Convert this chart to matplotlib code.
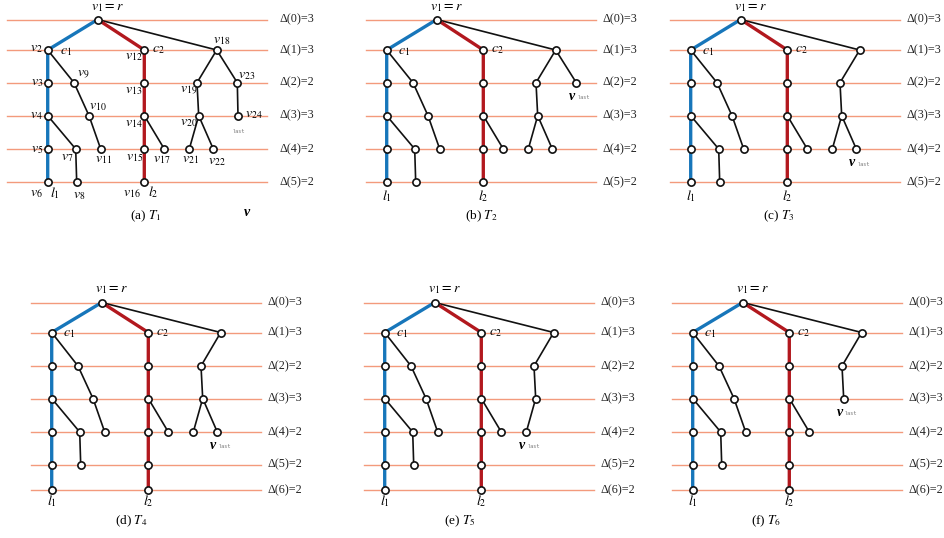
import matplotlib.pyplot as plt

plt.rcParams['mathtext.fontset'] = 'stix'
plt.rcParams['font.family'] = ['Liberation Serif', 'DejaVu Serif']

# layout of the full tree (as drawn in T1): horizontal position and depth of each node
node_x = {'v1': 97.7, 'v2': 47.7, 'v3': 47.7, 'v4': 47.7, 'v5': 47.7, 'v6': 47.7, 'v25': 47.7,
          'v7': 75.7, 'v8': 76.7, 'v9': 74.0, 'v10': 89.0, 'v11': 100.7,
          'v12': 144.3, 'v13': 144.3, 'v14': 144.3, 'v15': 144.3, 'v16': 144.3, 'v26': 144.3,
          'v17': 164.3, 'v18': 216.7, 'v19': 197.0, 'v20': 198.7, 'v21': 189.3,
          'v22': 213.3, 'v23': 237.3, 'v24': 238.0}
node_depth = {'v1': 0, 'v2': 1, 'v12': 1, 'v18': 1,
              'v3': 2, 'v9': 2, 'v13': 2, 'v19': 2, 'v23': 2,
              'v4': 3, 'v10': 3, 'v14': 3, 'v20': 3, 'v24': 3,
              'v5': 4, 'v7': 4, 'v11': 4, 'v15': 4, 'v17': 4, 'v21': 4, 'v22': 4,
              'v6': 5, 'v8': 5, 'v16': 5, 'v25': 6, 'v26': 6}

blue_path = ['v1', 'v2', 'v3', 'v4', 'v5', 'v6', 'v25']
red_path = ['v1', 'v12', 'v13', 'v14', 'v15', 'v16', 'v26']
black_edges = [('v1', 'v18'), ('v2', 'v9'), ('v9', 'v10'), ('v10', 'v11'),
               ('v4', 'v7'), ('v7', 'v8'), ('v14', 'v17'),
               ('v18', 'v19'), ('v19', 'v20'), ('v20', 'v21'), ('v20', 'v22'),
               ('v18', 'v23'), ('v23', 'v24')]

t1_nodes = [n for n in node_x if n not in ('v25', 'v26')]
t2_nodes = [n for n in t1_nodes if n != 'v24']
t3_nodes = [n for n in t2_nodes if n != 'v23']
t4_nodes = t3_nodes + ['v25', 'v26']
t5_nodes = [n for n in t4_nodes if n != 'v22']
t6_nodes = [n for n in t5_nodes if n != 'v21']
tree_nodes = [t1_nodes, t2_nodes, t3_nodes, t4_nodes, t5_nodes, t6_nodes]
last_node = [None, 'v23', 'v22', 'v22', 'v21', 'v20']

delta_short = [3, 3, 2, 3, 2, 2]
delta_long = [3, 3, 2, 3, 2, 2, 2]
deltas = [delta_short, delta_short, delta_short, delta_long, delta_long, delta_long]

captions = ['(a) $T_1$', '(b) $T_2$', '(c) $T_3$', '(d) $T_4$', '(e) $T_5$', '(f) $T_6$']

# panel placement (pixels)
shift_x = [0, 339, 643, 4, 337, 645]
row_y = [[19.5, 50, 82.7, 115.7, 149, 182],
         [302.5, 332.5, 366, 398.5, 432, 464.5, 490]]
panel_row = [0, 0, 0, 1, 1, 1]
line_x0 = [7, 27, 27, 27, 27, 27]
line_x1 = [267, 257, 257, 257, 257, 257]
label_gap = [12, 6.5, 6.5, 6.5, 6.5, 6.5]
cap_x = [146, 481, 779, 131, 460, 766]
cap_y = [216, 216, 216, 521, 521, 521]

# offsets of node names in T1: (dx, dy, ha)
t1_labels = {'v2': (-4.5, -1, 'right'), 'v3': (-4.5, 0, 'right'), 'v4': (-4.5, 0, 'right'),
             'v5': (-4.5, 0, 'right'), 'v6': (-11.5, 11, 'center'), 'v7': (-8, 9, 'center'),
             'v8': (2.5, 13, 'center'), 'v9': (3, -8, 'left'), 'v10': (0, -9, 'left'),
             'v11': (2.5, 10, 'center'), 'v12': (-2, 7, 'right'), 'v13': (-2, 7.5, 'right'),
             'v14': (-2, 7.5, 'right'), 'v15': (-1, 9, 'right'), 'v16': (-4, 11, 'right'),
             'v17': (-3, 10, 'center'), 'v18': (5, -9, 'center'), 'v19': (0, 8, 'right'),
             'v20': (-1.5, 6.5, 'right'), 'v21': (0.7, 11, 'center'), 'v22': (3.7, 12, 'center'),
             'v23': (1, -7, 'left'), 'v24': (7, -1.5, 'left')}

BLUE = '#1776ba'
RED = '#b2181e'
ORANGE = '#f39a7c'

fig = plt.figure(figsize=(9.45, 5.38), dpi=100)
ax = fig.add_axes([0, 0, 1, 1])
ax.set_xlim(0, 945)
ax.set_ylim(538, 0)
ax.axis('off')

for p in range(6):
    nodes = tree_nodes[p]
    ys = row_y[panel_row[p]]
    sx = shift_x[p]
    pos = {n: (node_x[n] + sx, ys[node_depth[n]]) for n in nodes}

    # depth lines and their labels
    for d, val in enumerate(deltas[p]):
        ax.plot([line_x0[p] + sx, line_x1[p] + sx], [ys[d], ys[d]], color=ORANGE, lw=1.0, zorder=1)
        ax.text(line_x1[p] + sx + label_gap[p], ys[d], '\u0394(%d)=%d' % (d, val),
                fontsize=8.7, ha='left', va='center', color='#222222')

    # edges
    for a, b in black_edges:
        if a in pos and b in pos:
            ax.plot([pos[a][0], pos[b][0]], [pos[a][1], pos[b][1]], color='#111111', lw=1.2, zorder=2)
    for path, col in ((blue_path, BLUE), (red_path, RED)):
        pts = [pos[n] for n in path if n in pos]
        ax.plot([q[0] for q in pts], [q[1] for q in pts], color=col, lw=2.4, zorder=3,
                solid_capstyle='butt')

    # nodes
    ax.plot([pos[n][0] for n in nodes], [pos[n][1] for n in nodes], 'o', ms=5.2, mfc='white',
            mec='#111111', mew=1.2, ls='none', zorder=4)

    # labels shared by all panels
    rx, ry = pos['v1']
    ax.text(rx + 10, ry - 12.5, '$v_1 = r$', fontsize=10, ha='center', va='center')
    c1x, c1y = pos['v2']
    c2x, c2y = pos['v12']
    ax.text(c1x + (12 if p == 0 else 11), c1y + 1.5, '$c_1$', fontsize=10, ha='left', va='center')
    ax.text(c2x + 8, c2y, '$c_2$', fontsize=10, ha='left', va='center')
    l1 = [n for n in blue_path if n in pos][-1]
    l2 = [n for n in red_path if n in pos][-1]
    if p == 0:
        ax.text(pos[l1][0] + 7, pos[l1][1] + 11, '$l_1$', fontsize=10, ha='center', va='center')
        ax.text(pos[l2][0] + 9, pos[l2][1] + 10, '$l_2$', fontsize=10, ha='center', va='center')
    else:
        off = 14.5 if panel_row[p] == 0 else 11.5
        ax.text(pos[l1][0], pos[l1][1] + off, '$l_1$', fontsize=10, ha='center', va='center')
        ax.text(pos[l2][0], pos[l2][1] + off, '$l_2$', fontsize=10, ha='center', va='center')

    if p == 0:
        for n, (ox, oy, ha) in t1_labels.items():
            ax.text(pos[n][0] + ox, pos[n][1] + oy, '$v_{%s}$' % n[1:], fontsize=10,
                    ha=ha, va='center')
        lx, ly = pos['v24']
        ax.text(lx + 1, ly + 15.5, 'last', fontsize=3.8, family='DejaVu Sans Mono',
                color='#777777', ha='center', va='center')
        ax.text(247, 213, 'v', fontsize=10, fontweight='bold', style='italic',
                ha='center', va='center')
    else:
        lx, ly = pos[last_node[p]]
        ax.text(lx - 7, ly + 13.5, 'v', fontsize=10, fontweight='bold', style='italic',
                ha='left', va='center')
        ax.text(lx + 1, ly + 15, 'last', fontsize=3.8, family='DejaVu Sans Mono',
                color='#777777', ha='left', va='center')

    ax.text(cap_x[p], cap_y[p], captions[p], fontsize=9.5, ha='center', va='center')

fig.savefig('out.png', dpi=100)
